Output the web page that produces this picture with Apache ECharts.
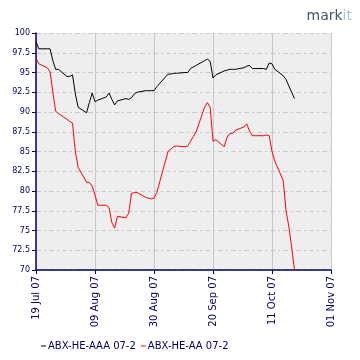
<!DOCTYPE html>
<html><head><meta charset="utf-8">
<script src="https://cdn.jsdelivr.net/npm/echarts@6/dist/echarts.min.js"></script>
<style>html,body{margin:0;padding:0;background:#fff}#c{width:360px;height:360px}</style>
</head><body><div id="c"></div>
<script>
var startDate = '2007-07-19';
var dates = ['2007-07-19','2007-07-20','2007-07-23','2007-07-24','2007-07-25','2007-07-26','2007-07-27','2007-07-30','2007-07-31',
'2007-08-01','2007-08-02','2007-08-03','2007-08-06','2007-08-07','2007-08-08','2007-08-09','2007-08-10','2007-08-13','2007-08-14','2007-08-15','2007-08-16','2007-08-17','2007-08-20','2007-08-21','2007-08-22','2007-08-23','2007-08-24','2007-08-27','2007-08-28','2007-08-29','2007-08-30','2007-08-31',
'2007-09-03','2007-09-04','2007-09-05','2007-09-06','2007-09-07','2007-09-10','2007-09-11','2007-09-12','2007-09-13','2007-09-14','2007-09-17','2007-09-18','2007-09-19','2007-09-20','2007-09-21','2007-09-24','2007-09-25','2007-09-26','2007-09-27','2007-09-28',
'2007-10-01','2007-10-02','2007-10-03','2007-10-04','2007-10-05','2007-10-08','2007-10-09','2007-10-10','2007-10-11','2007-10-12','2007-10-15','2007-10-16','2007-10-17','2007-10-18','2007-10-19'];
var aaa = [98.9,98.0,98.0,98.0,96.5,95.4,95.4,94.5,94.5,
94.7,92.3,90.6,89.9,91.2,92.4,91.3,91.5,91.9,92.4,91.6,90.9,91.4,91.7,91.6,91.8,92.3,92.5,92.7,92.7,92.7,92.7,93.2,
94.4,94.8,94.8,94.9,94.9,95.0,95.0,95.5,95.7,95.9,96.5,96.7,96.4,94.3,94.7,95.2,95.3,95.4,95.4,95.4,
95.6,95.8,95.9,95.5,95.5,95.5,95.4,96.2,96.1,95.4,94.6,94.1,93.3,92.5,91.7];
var aa = [96.8,96.1,95.6,95.1,92.5,90.1,89.8,89.1,88.8,
88.6,85.0,83.0,81.1,81.1,80.6,79.5,78.2,78.2,77.9,76.0,75.3,76.8,76.6,77.2,79.7,79.8,79.8,79.2,79.1,79.0,79.1,79.8,
83.7,85.0,85.3,85.6,85.7,85.6,85.7,86.3,86.9,87.5,90.6,91.2,90.6,86.3,86.5,85.6,86.8,87.3,87.3,87.7,
88.1,88.5,87.6,87.0,87.0,87.0,87.1,87.0,85.0,83.8,81.3,77.5,75.5,72.9,70.0];
var seriesNames = ['ABX-HE-AAA 07-2','ABX-HE-AA 07-2'];
var months = ['Jan','Feb','Mar','Apr','May','Jun','Jul','Aug','Sep','Oct','Nov','Dec'];

var t0 = Date.parse(startDate);
function off(d){ return Math.round((Date.parse(d) - t0) / 86400000); }
function lab(v){
  var dt = new Date(t0 + v * 86400000);
  var dd = dt.getUTCDate(); dd = dd < 10 ? '0' + dd : '' + dd;
  return dd + ' ' + months[dt.getUTCMonth()] + ' ' + String(dt.getUTCFullYear()).slice(2);
}
var navy = '#000066';
var chart = echarts.init(document.getElementById('c'));
chart.setOption({
  animation: false,
  grid: {left: 36, right: 29, top: 33, bottom: 90, show: true, backgroundColor: '#eeeeee', borderWidth: 0},
  xAxis: {type: 'value', min: 0, max: 105, interval: 21,
    axisLine: {lineStyle: {color: navy, width: 1.5}},
    axisTick: {length: 4, lineStyle: {color: navy}},
    axisLabel: {rotate: 90, color: navy, fontSize: 10, fontFamily: 'DejaVu Sans', margin: 6, formatter: lab},
    splitLine: {show: true, lineStyle: {color: '#c8c8c8', width: 1}}},
  yAxis: {type: 'value', min: 70, max: 100, interval: 2.5,
    axisLine: {show: true, lineStyle: {color: navy, width: 1.5}},
    axisTick: {show: true, length: 4, lineStyle: {color: navy}},
    axisLabel: {color: navy, fontSize: 8, fontFamily: 'DejaVu Sans', margin: 6},
    splitLine: {show: true, lineStyle: {color: '#c8c8c8', width: 1, type: [5, 3, 2, 3]}}},
  legend: {left: 36, top: 336, itemWidth: 5, itemHeight: 1, itemGap: 5, icon: 'rect',
    textStyle: {color: navy, fontSize: 10, fontFamily: 'DejaVu Sans', padding: [0, 0, 0, -3]},
    data: seriesNames},
  graphic: [{type: 'text', right: 8, top: 9, style: {
    rich: {a: {fill: '#3d5866', fontSize: 14, fontFamily: 'DejaVu Sans'}, b: {fill: '#a9c3cf', fontSize: 14, fontFamily: 'DejaVu Sans'}},
    text: '{a|mark}{b|it}'}}],
  series: [
    {name: seriesNames[0], type: 'line', showSymbol: false, color: '#000000', lineStyle: {width: 1},
     data: dates.map(function(d, i){ return [off(d), aaa[i]]; })},
    {name: seriesNames[1], type: 'line', showSymbol: false, color: '#ff0000', lineStyle: {width: 1},
     data: dates.map(function(d, i){ return [off(d), aa[i]]; })}
  ]
});
</script></body></html>
